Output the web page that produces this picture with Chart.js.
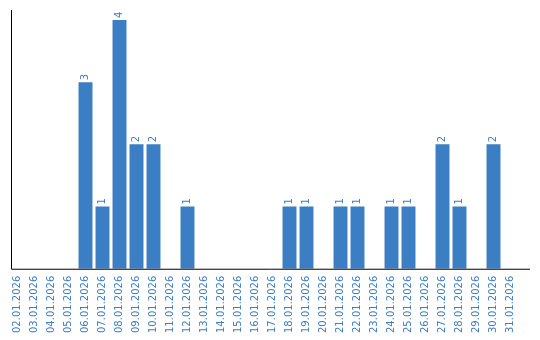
<!DOCTYPE html>
<html>
<head>
<meta charset="utf-8">
<script src="https://cdn.jsdelivr.net/npm/chart.js@4/dist/chart.umd.min.js"></script>
<style>
  html, body { margin: 0; padding: 0; background: #fff; }
  #wrap { width: 540px; height: 340px; }
</style>
</head>
<body>
<div id="wrap"><canvas id="chart"></canvas></div>
<script>
const dates = [
    '02.01.2026', '03.01.2026', '04.01.2026', '05.01.2026', '06.01.2026',
    '07.01.2026', '08.01.2026', '09.01.2026', '10.01.2026', '11.01.2026',
    '12.01.2026', '13.01.2026', '14.01.2026', '15.01.2026', '16.01.2026',
    '17.01.2026', '18.01.2026', '19.01.2026', '20.01.2026', '21.01.2026',
    '22.01.2026', '23.01.2026', '24.01.2026', '25.01.2026', '26.01.2026',
    '27.01.2026', '28.01.2026', '29.01.2026', '30.01.2026', '31.01.2026'
];
const counts = [
    0, 0, 0, 0, 3,
    1, 4, 2, 2, 0,
    1, 0, 0, 0, 0,
    0, 1, 1, 0, 1,
    1, 0, 1, 1, 0,
    2, 1, 0, 2, 0
];

const blue = '#3b7ec3';
const labelFont = '10px "DejaVu Sans"';

// axis lines: y line a bit inside the left edge, x line running past the last bar
const axisLines = {
    id: 'axisLines',
    afterDraw(chart) {
        const { ctx, chartArea } = chart;
        ctx.save();
        ctx.strokeStyle = '#000';
        ctx.lineWidth = 1;
        ctx.beginPath();
        ctx.moveTo(chartArea.left + 2.5, chartArea.top);
        ctx.lineTo(chartArea.left + 2.5, chartArea.bottom + 0.5);
        ctx.lineTo(chartArea.right + 11, chartArea.bottom + 0.5);
        ctx.stroke();
        ctx.restore();
    }
};

// value labels written upwards above each bar
const valueLabels = {
    id: 'valueLabels',
    afterDatasetsDraw(chart) {
        const { ctx } = chart;
        const meta = chart.getDatasetMeta(0);
        ctx.save();
        ctx.fillStyle = blue;
        ctx.font = labelFont;
        ctx.textAlign = 'left';
        ctx.textBaseline = 'middle';
        meta.data.forEach((bar, i) => {
            if (!counts[i]) return;
            ctx.save();
            ctx.translate(bar.x, bar.y - 2);
            ctx.rotate(-Math.PI / 2);
            ctx.fillText(String(counts[i]), 0, 0);
            ctx.restore();
        });
        ctx.restore();
    }
};

new Chart(document.getElementById('chart'), {
    type: 'bar',
    data: {
        labels: dates,
        datasets: [{
            data: counts,
            backgroundColor: blue,
            barPercentage: 0.82,
            categoryPercentage: 1
        }]
    },
    options: {
        responsive: true,
        maintainAspectRatio: false,
        animation: false,
        layout: { padding: { top: 10, left: 9, right: 21, bottom: 0 } },
        plugins: { legend: { display: false }, tooltip: { enabled: false } },
        scales: {
            x: {
                grid: { display: false, drawTicks: false },
                border: { display: false },
                ticks: {
                    color: blue,
                    font: { family: 'DejaVu Sans', size: 10 },
                    minRotation: 90,
                    maxRotation: 90,
                    autoSkip: false,
                    padding: 7
                }
            },
            y: {
                display: false,
                min: 0,
                max: 4.16
            }
        }
    },
    plugins: [axisLines, valueLabels]
});
</script>
</body>
</html>
